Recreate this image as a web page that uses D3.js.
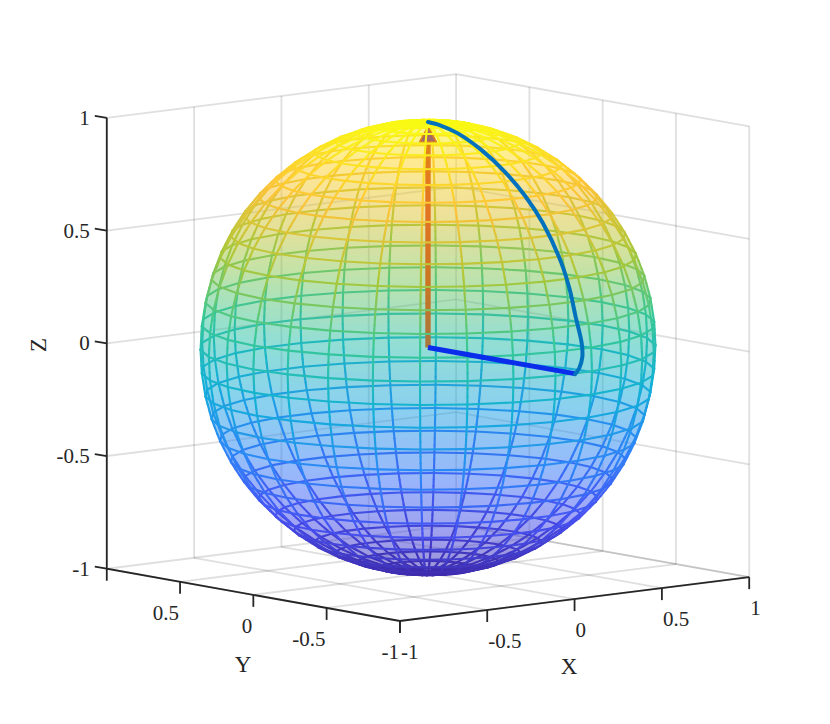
<!DOCTYPE html>
<html><head><meta charset="utf-8">
<style>html,body{margin:0;padding:0;background:#fff}svg{display:block}
text{font-family:"Liberation Serif",serif;fill:#262626}</style>
<script src="https://cdnjs.cloudflare.com/ajax/libs/d3/7.8.5/d3.min.js"></script></head>
<body><script>
const xTicks=[-1,-0.5,0,0.5,1], yTicks=[-1,-0.5,0,0.5,1], zTicks=[-1,-0.5,0,0.5,1];
const tickLabel=v=>String(v);
const meshLats=[-90,-84,-78,-72,-66,-60,-54,-48,-42,-36,-30,-24,-18,-12,-6,0,6,12,18,24,30,36,42,48,54,60,66,72,78,84,90];
const meshLons=[0,12,24,36,48,60,72,84,96,108,120,132,144,156,168,180,192,204,216,228,240,252,264,276,288,300,312,324,336,348,360];
const parulaStops=["#3e2aa8","#4752f4","#2d87f7","#12b1d6","#37c897","#abc739","#fec338","#f9fb14"];
const orangeX=[0,0], orangeY=[0,0], orangeZ=[0,0.93];
const coneX=[-0.028,0,0.028], coneY=[0.024,0,-0.024], coneZ=[0.912,0.98,0.912];
const radialX=[0,0], radialY=[0,-1], radialZ=[0,0];
const pathX=[0,-0.006,-0.012,-0.018,-0.012,0,0.012,0.025,0.03,0.032,0.049,0.048,0.028,0.003];
const pathY=[0,-0.094,-0.215,-0.385,-0.537,-0.667,-0.77,-0.88,-0.932,-0.969,-0.99,-0.996,-0.999,-1];
const pathZ=[1,0.996,0.977,0.923,0.844,0.746,0.639,0.475,0.36,0.246,0.13,0.07,0.022,-0.003];

const W=830,H=724,cx=428,cy=347.5,R=228;
const az=40*Math.PI/180, el=8.6*Math.PI/180;
const hx=d3.scaleLinear([-1,1],[-R*Math.cos(az),R*Math.cos(az)]);
const hy=d3.scaleLinear([-1,1],[R*Math.sin(az),-R*Math.sin(az)]);
const vx=d3.scaleLinear([-1,1],[R*Math.sin(el)*Math.sin(az),-R*Math.sin(el)*Math.sin(az)]);
const vy=d3.scaleLinear([-1,1],[R*Math.sin(el)*Math.cos(az),-R*Math.sin(el)*Math.cos(az)]);
const vz=d3.scaleLinear([-1,1],[R*Math.cos(el),-R*Math.cos(el)]);
const P=(x,y,z)=>[cx+hx(x)+hy(y),cy+vx(x)+vy(y)+vz(z)];
const view=[-Math.cos(el)*Math.sin(az),-Math.cos(el)*Math.cos(az),Math.sin(el)];
const facing=p=>p[0]*view[0]+p[1]*view[1]+p[2]*view[2];
const rad=d=>d*Math.PI/180;
const S=(lat,lon)=>[Math.cos(rad(lat))*Math.cos(rad(lon)),Math.cos(rad(lat))*Math.sin(rad(lon)),Math.sin(rad(lat))];
const mix=(a,b,t)=>a.map((v,i)=>v+(b[i]-v)*t);
const color=d3.scaleLinear().domain(parulaStops.map((_,i)=>-1+2*i/7)).range(parulaStops).interpolate(d3.interpolateRgb);
const line=d3.line();

const svg=d3.select("body").append("svg").attr("width",W).attr("height",H).attr("viewBox",[0,0,W,H]);

// grid
const gridSegs=[];
zTicks.forEach(z=>{gridSegs.push([[-1,1,z],[1,1,z]]);gridSegs.push([[1,-1,z],[1,1,z]]);});
xTicks.forEach(x=>{gridSegs.push([[x,1,-1],[x,1,1]]);gridSegs.push([[x,-1,-1],[x,1,-1]]);});
yTicks.forEach(y=>{if(y<1){gridSegs.push([[1,y,-1],[1,y,1]]);gridSegs.push([[-1,y,-1],[1,y,-1]]);}});
svg.append("g").selectAll("path").data(gridSegs).join("path")
 .attr("d",d=>line(d.map(p=>P(...p)))).attr("fill","none")
 .attr("stroke","#262626").attr("stroke-opacity",0.15).attr("stroke-width",1.8);

// faceted sphere surface
const quads=[], segs=[];
const strips=3;
d3.pairs(meshLats).forEach(([la0,la1])=>d3.pairs(meshLons).forEach(([lo0,lo1])=>{
  const a=S(la0,lo0),b=S(la0,lo1),c=S(la1,lo1),d=S(la1,lo0);
  const ctr=mix(mix(a,c,.5),mix(b,d,.5),.5);
  const front=facing(ctr)>0;
  d3.range(strips).forEach(k=>{
    const t0=k/strips,t1=(k+1)/strips;
    const q=[mix(a,d,t0),mix(b,c,t0),mix(b,c,t1),mix(a,d,t1)];
    const z=(q[0][2]+q[3][2])/2;
    quads.push({pts:q.map(p=>P(...p)),z,front});
  });
  segs.push({pts:[P(...a),P(...b)],z:a[2],front});
  d3.range(strips).forEach(k=>{
    const p0=mix(a,d,k/strips),p1=mix(a,d,(k+1)/strips);
    segs.push({pts:[P(...p0),P(...p1)],z:(p0[2]+p1[2])/2,front});
  });
}));

const drawFaces=(front)=>svg.append("g").attr("shape-rendering","crispEdges").selectAll("path")
  .data(quads.filter(q=>q.front===front)).join("path")
  .attr("d",q=>line(q.pts)+"Z").attr("fill",q=>color(q.z)).attr("fill-opacity",0.3);
const drawEdges=(front)=>svg.append("g").attr("fill","none").attr("stroke-width",2.1).attr("stroke-linecap","round").selectAll("path")
  .data(segs.filter(q=>q.front===front)).join("path")
  .attr("d",q=>line(q.pts)).attr("stroke",q=>color(q.z));

drawFaces(false);
drawEdges(false);
// inner vector and cone
svg.append("path").attr("d",line(orangeX.map((x,i)=>P(x,orangeY[i],orangeZ[i])))).attr("fill","none").attr("stroke","#D95319").attr("stroke-width",5.4);
svg.append("path").attr("d",line(coneX.map((x,i)=>P(x,coneY[i],coneZ[i])))+"Z").attr("fill","#7E2F8E").attr("stroke","#D95319").attr("stroke-width",1.5).attr("stroke-linejoin","round");
drawFaces(true);
drawEdges(true);
// front vector and path
svg.append("path").attr("d",line(radialX.map((x,i)=>P(x,radialY[i],radialZ[i])))).attr("fill","none").attr("stroke","#0A2DEB").attr("stroke-width",5);
svg.append("path").attr("d",d3.line().curve(d3.curveCatmullRom)(pathX.map((x,i)=>P(x,pathY[i],pathZ[i])))).attr("fill","none").attr("stroke","#0072BD").attr("stroke-width",4).attr("stroke-linecap","round").attr("stroke-linejoin","round");

// axes
const ax=svg.append("g").attr("fill","none").attr("stroke","#262626").attr("stroke-width",1.8);
ax.append("path").attr("d",line([P(-1,1,1),P(-1,1,-1),P(-1,-1,-1),P(1,-1,-1)]));
zTicks.forEach(z=>{const p=P(-1,1,z);ax.append("path").attr("d",line([p,[p[0]-12,p[1]-2]]));});
yTicks.forEach(y=>{const p=P(-1,y,-1);ax.append("path").attr("d",line([p,[p[0],p[1]+12]]));});
xTicks.forEach(x=>{const p=P(x,-1,-1);ax.append("path").attr("d",line([p,[p[0],p[1]+12]]));});
const FS=21;
const lab=svg.append("g").attr("font-size",FS);
lab.selectAll(".z").data(zTicks).join("text").attr("text-anchor","end")
 .attr("x",d=>P(-1,1,d)[0]-17).attr("y",d=>P(-1,1,d)[1]+7).text(tickLabel);
lab.selectAll(".y").data(yTicks.filter(d=>d<1)).join("text").attr("text-anchor","end")
 .attr("x",d=>P(-1,d,-1)[0]-1).attr("y",d=>P(-1,d,-1)[1]+38).text(tickLabel);
lab.selectAll(".x").data(xTicks).join("text").attr("text-anchor","start")
 .attr("x",d=>P(d,-1,-1)[0]+1).attr("y",d=>P(d,-1,-1)[1]+38).text(tickLabel);
const t=svg.append("g").attr("font-size",23).attr("text-anchor","middle");
t.append("text").attr("x",569).attr("y",674).text("X");
t.append("text").attr("x",243).attr("y",672).text("Y");
t.append("text").attr("transform","translate(46,345) rotate(-90)").text("Z");
</script></body></html>
